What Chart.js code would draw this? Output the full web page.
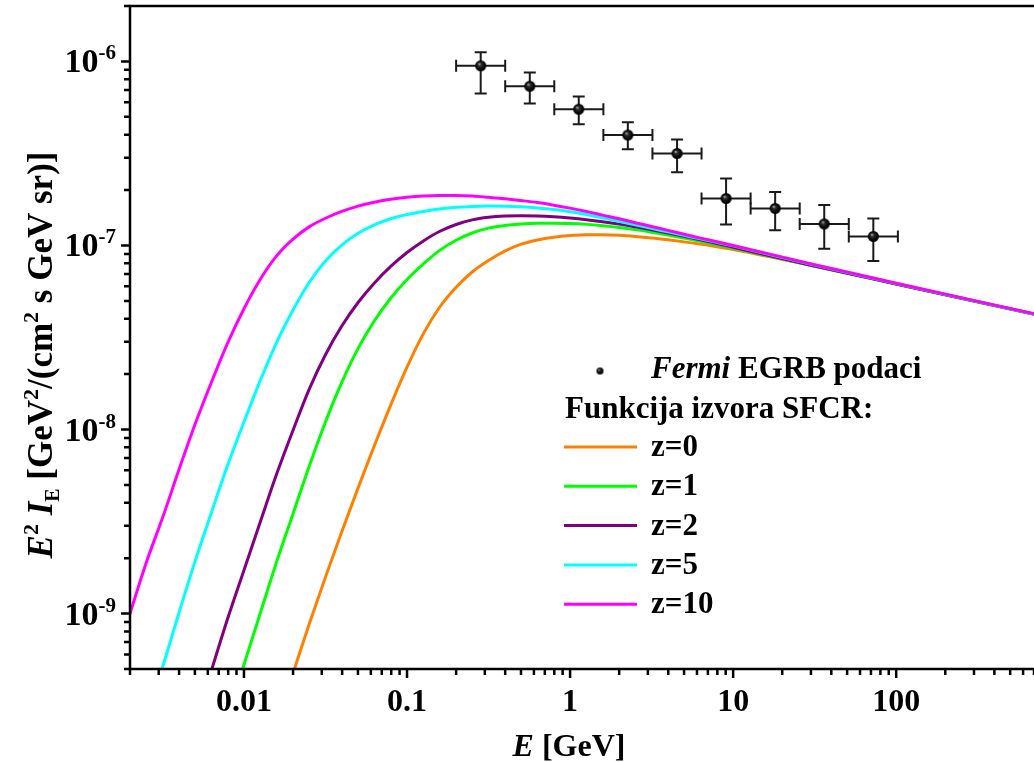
<!DOCTYPE html>
<html><head><meta charset="utf-8">
<script src="https://cdn.jsdelivr.net/npm/chart.js@4.4.0/dist/chart.umd.min.js"></script>
<style>html,body{margin:0;padding:0;background:#fff;overflow:hidden}#wrap{width:1034px;height:762px}</style>
</head><body><div id="wrap"><canvas id="c" width="1034" height="762"></canvas></div>
<script>
// ---- data ----
const energy = [0.0016, 0.002, 0.0025, 0.0032, 0.004, 0.005, 0.0063, 0.0079, 0.01, 0.0126, 0.0158, 0.02, 0.0251, 0.0316, 0.0398, 0.0501, 0.0631, 0.0794, 0.1, 0.126, 0.158, 0.2, 0.251, 0.316, 0.398, 0.501, 0.631, 0.794, 1, 1.26, 1.58, 2, 2.51, 3.16, 3.98, 5.01, 6.31, 7.94, 10, 31.6, 100, 700];

const z10 = [5.31e-10, 1.0e-9, 1.862e-9, 3.40e-9, 6.08e-9, 1.062e-8, 1.795e-8, 2.92e-8, 4.53e-8, 6.55e-8, 8.75e-8, 1.084e-7, 1.262e-7, 1.406e-7, 1.531e-7, 1.637e-7, 1.718e-7, 1.782e-7, 1.828e-7, 1.858e-7, 1.871e-7, 1.871e-7, 1.858e-7, 1.828e-7, 1.795e-7, 1.754e-7, 1.710e-7, 1.656e-7, 1.596e-7, 1.531e-7, 1.462e-7, 1.396e-7, 1.330e-7, 1.268e-7, 1.208e-7, 1.151e-7, 1.096e-7, 1.047e-7, 1.0e-7, 7.85e-8, 6.24e-8, 4.25e-8];

const z5 = [null, null, 2.69e-10, 5.27e-10, 1.014e-9, 1.910e-9, 3.516e-9, 6.31e-9, 1.099e-8, 1.849e-8, 2.951e-8, 4.457e-8, 6.295e-8, 8.24e-8, 1.005e-7, 1.164e-7, 1.294e-7, 1.396e-7, 1.472e-7, 1.531e-7, 1.578e-7, 1.611e-7, 1.629e-7, 1.637e-7, 1.633e-7, 1.622e-7, 1.600e-7, 1.567e-7, 1.524e-7, 1.472e-7, 1.413e-7, 1.352e-7, 1.294e-7, 1.238e-7, 1.186e-7, 1.135e-7, 1.086e-7, 1.040e-7, 9.95e-8, 7.83e-8, 6.22e-8, 4.24e-8];

const z2 = [null, null, null, null, null, 2.53e-10, 4.875e-10, 9.25e-10, 1.722e-9, 3.155e-9, 5.675e-9, 9.91e-9, 1.652e-8, 2.547e-8, 3.648e-8, 4.898e-8, 6.252e-8, 7.69e-8, 9.16e-8, 1.059e-7, 1.191e-7, 1.300e-7, 1.377e-7, 1.422e-7, 1.445e-7, 1.452e-7, 1.447e-7, 1.432e-7, 1.409e-7, 1.380e-7, 1.346e-7, 1.306e-7, 1.262e-7, 1.216e-7, 1.169e-7, 1.122e-7, 1.074e-7, 1.026e-7, 9.79e-8, 7.73e-8, 6.18e-8, 4.24e-8];

const z1 = [null, null, null, null, null, null, null, 2.735e-10, 5.284e-10, 1.007e-9, 1.892e-9, 3.491e-9, 6.295e-9, 1.099e-8, 1.803e-8, 2.761e-8, 3.899e-8, 5.164e-8, 6.531e-8, 7.943e-8, 9.376e-8, 1.067e-7, 1.169e-7, 1.242e-7, 1.285e-7, 1.309e-7, 1.320e-7, 1.321e-7, 1.315e-7, 1.302e-7, 1.281e-7, 1.253e-7, 1.219e-7, 1.180e-7, 1.139e-7, 1.096e-7, 1.053e-7, 1.009e-7, 9.66e-8, 7.71e-8, 6.17e-8, 4.23e-8];

const z0 = [null, null, null, null, null, null, null, null, null, null, 2.518e-10, 4.742e-10, 8.75e-10, 1.578e-9, 2.786e-9, 4.819e-9, 8.185e-9, 1.358e-8, 2.183e-8, 3.319e-8, 4.603e-8, 5.93e-8, 7.178e-8, 8.28e-8, 9.31e-8, 1.016e-7, 1.072e-7, 1.109e-7, 1.132e-7, 1.143e-7, 1.143e-7, 1.135e-7, 1.119e-7, 1.098e-7, 1.073e-7, 1.046e-7, 1.017e-7, 9.85e-8, 9.52e-8, 7.73e-8, 6.18e-8, 4.24e-8];

const fermiE     = [0.283, 0.566, 1.13, 2.26, 4.53, 9.05, 18.1, 36.2, 72.4];
const fermiELow  = [0.2, 0.4, 0.8, 1.6, 3.2, 6.4, 12.8, 25.6, 51.2];
const fermiEHigh = [0.4, 0.8, 1.6, 3.2, 6.4, 12.8, 25.6, 51.2, 102.4];
const fermiFlux  = [9.47e-7, 7.33e-7, 5.5e-7, 3.98e-7, 3.16e-7, 1.80e-7, 1.59e-7, 1.31e-7, 1.12e-7];
const fermiHigh  = [1.12e-6, 8.7e-7, 6.44e-7, 4.67e-7, 3.77e-7, 2.31e-7, 1.95e-7, 1.66e-7, 1.40e-7];
const fermiLow   = [6.7e-7, 5.9e-7, 4.55e-7, 3.33e-7, 2.5e-7, 1.30e-7, 1.21e-7, 9.6e-8, 8.24e-8];

const xTickValues = [0.01, 0.1, 1, 10, 100];
const xTickLabels = ['0.01', '0.1', '1', '10', '100'];
const yTickValues = [1e-9, 1e-8, 1e-7, 1e-6];
const yTickExps   = ['-9', '-8', '-7', '-6'];

const seriesLabels = ['z=0', 'z=1', 'z=2', 'z=5', 'z=10'];
const seriesColors = ['#ff8000', '#00ff00', '#800080', '#00ffff', '#ff00ff'];
const seriesY = [z0, z1, z2, z5, z10];

// ---- helpers ----
const FONT = '"Liberation Serif", "Times New Roman", serif';
function f(size, italic) { return (italic ? 'italic ' : '') + 'bold ' + size + 'px ' + FONT; }

function sphere(r) {
  const s = Math.ceil(r * 2 + 2);
  const c = document.createElement('canvas');
  c.width = c.height = s;
  const g = c.getContext('2d');
  const cx = s / 2, cy = s / 2;
  const grad = g.createRadialGradient(cx - r * 0.3, cy - r * 0.35, 0, cx, cy, r);
  grad.addColorStop(0, '#c8c8c8');
  grad.addColorStop(0.3, '#303030');
  grad.addColorStop(0.7, '#0a0a0a');
  grad.addColorStop(1, '#000');
  g.fillStyle = grad;
  g.beginPath(); g.arc(cx, cy, r, 0, Math.PI * 2); g.fill();
  return c;
}
const ball = sphere(5.5);
const smallBall = sphere(3.5);

function rich(ctx, parts, x, y, align) {
  let w = 0;
  for (const p of parts) { ctx.font = p.font; w += ctx.measureText(p.t).width; }
  let cx = align === 'center' ? x - w / 2 : align === 'right' ? x - w : x;
  for (const p of parts) {
    ctx.font = p.font;
    ctx.fillText(p.t, cx, y + (p.dy || 0));
    cx += ctx.measureText(p.t).width;
  }
  return w;
}

function logTicks(min, max) {
  const out = [];
  for (let e = Math.floor(Math.log10(min)); e <= Math.ceil(Math.log10(max)); e++) {
    for (let m = 1; m <= 9; m++) {
      const v = m * Math.pow(10, e);
      if (v >= min * 0.9999 && v <= max * 1.0001) out.push({ v, major: m === 1 });
    }
  }
  return out;
}

const decor = {
  id: 'decor',
  beforeDatasetDraw(chart, args) {
    const ds = chart.data.datasets[args.index];
    if (!ds.isFermi) return;
    const ctx = chart.ctx, xs = chart.scales.x, ys = chart.scales.y;
    ctx.save();
    ctx.strokeStyle = '#1a1a1a';
    ctx.lineWidth = 2;
    for (let i = 0; i < fermiE.length; i++) {
      const px = xs.getPixelForValue(fermiE[i]);
      const py = ys.getPixelForValue(fermiFlux[i]);
      const x1 = xs.getPixelForValue(fermiELow[i]);
      const x2 = xs.getPixelForValue(fermiEHigh[i]);
      const y1 = ys.getPixelForValue(fermiHigh[i]);
      const y2 = ys.getPixelForValue(fermiLow[i]);
      ctx.beginPath();
      ctx.moveTo(x1, py); ctx.lineTo(x2, py);
      ctx.moveTo(x1, py - 6); ctx.lineTo(x1, py + 6);
      ctx.moveTo(x2, py - 6); ctx.lineTo(x2, py + 6);
      ctx.moveTo(px, y1); ctx.lineTo(px, y2);
      ctx.moveTo(px - 6, y1); ctx.lineTo(px + 6, y1);
      ctx.moveTo(px - 6, y2); ctx.lineTo(px + 6, y2);
      ctx.stroke();
    }
    ctx.restore();
  },
  afterDraw(chart) {
    const ctx = chart.ctx, xs = chart.scales.x, ys = chart.scales.y;
    const a = chart.chartArea;
    ctx.save();
    ctx.strokeStyle = '#000';
    ctx.fillStyle = '#000';
    ctx.lineWidth = 2.5;
    ctx.lineCap = 'butt';
    ctx.beginPath();
    ctx.moveTo(a.left, a.top - 1.25); ctx.lineTo(a.left, a.bottom + 1.25);
    ctx.moveTo(a.left - 1.25, a.bottom); ctx.lineTo(a.right, a.bottom);
    ctx.moveTo(a.left - 1.25, a.top); ctx.lineTo(a.right, a.top);
    ctx.stroke();
    ctx.beginPath();
    for (const t of logTicks(xs.min, xs.max)) {
      const px = xs.getPixelForValue(t.v);
      ctx.moveTo(px, a.bottom); ctx.lineTo(px, a.bottom + (t.major ? 9 : 6));
    }
    for (const t of logTicks(ys.min, ys.max)) {
      const py = ys.getPixelForValue(t.v);
      ctx.moveTo(a.left, py); ctx.lineTo(a.left - (t.major ? 9 : 6), py);
    }
    ctx.stroke();
    ctx.textBaseline = 'alphabetic';
    ctx.textAlign = 'left';
    for (let i = 0; i < xTickValues.length; i++) {
      const px = xs.getPixelForValue(xTickValues[i]);
      rich(ctx, [{ t: xTickLabels[i], font: f(32) }], px, 711, 'center');
    }
    for (let i = 0; i < yTickValues.length; i++) {
      const py = ys.getPixelForValue(yTickValues[i]);
      rich(ctx, [{ t: '10', font: f(34) }, { t: yTickExps[i], font: f(21), dy: -13 }], 116, py + 11, 'right');
    }
    rich(ctx, [{ t: 'E', font: f(32, true) }, { t: ' [GeV]', font: f(32) }], 569, 756, 'center');
    ctx.save();
    ctx.translate(52, 355);
    ctx.rotate(-Math.PI / 2);
    rich(ctx, [
      { t: 'E', font: f(35, true) },
      { t: '2', font: f(22), dy: -14 },
      { t: ' ', font: f(35) },
      { t: 'I', font: f(35, true) },
      { t: 'E', font: f(20), dy: 7 },
      { t: ' [GeV', font: f(35) },
      { t: '2', font: f(22), dy: -14 },
      { t: '/(cm', font: f(35) },
      { t: '2', font: f(22), dy: -14 },
      { t: ' s GeV sr)]', font: f(35) }
    ], 0, 0, 'center');
    ctx.restore();
    // legend
    ctx.textBaseline = 'middle';
    ctx.drawImage(smallBall, 600 - smallBall.width / 2, 371 - smallBall.height / 2);
    rich(ctx, [{ t: 'Fermi', font: f(31, true) }, { t: ' EGRB podaci', font: f(31) }], 651, 370, 'left');
    rich(ctx, [{ t: 'Funkcija izvora SFCR:', font: f(31) }], 565, 410, 'left');
    const ly0 = 447, ldy = 39.3;
    ctx.lineWidth = 3;
    for (let i = 0; i < seriesLabels.length; i++) {
      const ly = ly0 + i * ldy;
      ctx.strokeStyle = seriesColors[i];
      ctx.beginPath(); ctx.moveTo(564, ly); ctx.lineTo(637, ly); ctx.stroke();
      rich(ctx, [{ t: seriesLabels[i], font: f(31) }], 651, ly + 1, 'left');
    }
    ctx.restore();
  }
};

const datasets = [{
  label: 'Fermi EGRB podaci',
  isFermi: true,
  data: fermiE.map((e, i) => ({ x: e, y: fermiFlux[i] })),
  showLine: false,
  pointStyle: ball,
  pointRadius: 5.5,
  borderColor: '#000',
  backgroundColor: '#000'
}];
for (let i = seriesLabels.length - 1; i >= 0; i--) {
  const pts = [];
  energy.forEach((e, k) => { if (seriesY[i][k] != null) pts.push({ x: e, y: seriesY[i][k] }); });
  datasets.push({
    label: seriesLabels[i],
    data: pts,
    borderColor: seriesColors[i],
    backgroundColor: seriesColors[i],
    borderWidth: 3,
    pointRadius: 0,
    cubicInterpolationMode: 'monotone',
    fill: false
  });
}

new Chart(document.getElementById('c'), {
  type: 'line',
  data: { datasets },
  options: {
    responsive: false,
    animation: false,
    devicePixelRatio: 1,
    layout: { autoPadding: false, padding: { left: 130, top: 6, right: 0, bottom: 93 } },
    plugins: { legend: { display: false }, tooltip: { enabled: false } },
    scales: {
      x: { type: 'logarithmic', min: 0.002, max: 700, display: false },
      y: { type: 'logarithmic', min: 5e-10, max: 2e-6, display: false }
    }
  },
  plugins: [decor]
});
</script>
</body></html>
